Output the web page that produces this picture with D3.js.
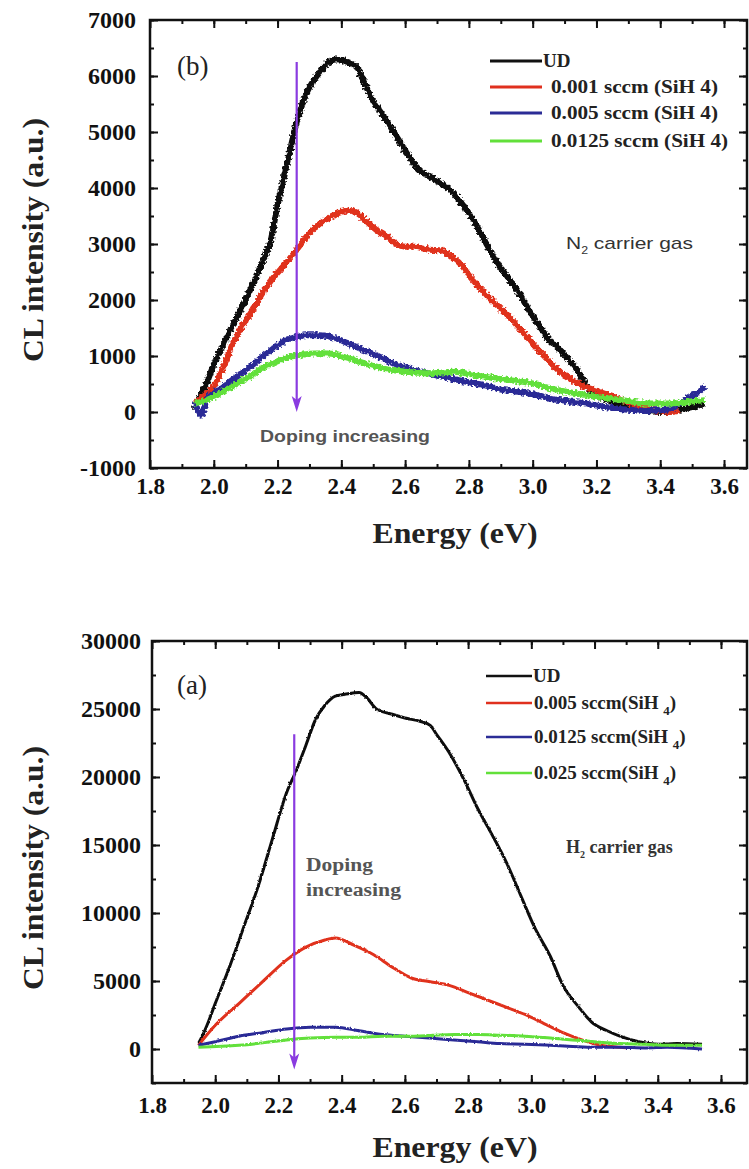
<!DOCTYPE html>
<html><head><meta charset="utf-8">
<script src="https://cdn.jsdelivr.net/npm/d3@7/dist/d3.min.js"></script>
<style>body{margin:0;background:#fff}svg{display:block}</style>
</head><body>
<script>
// ---------- DATA ----------
const xTicks = [1.8, 2.0, 2.2, 2.4, 2.6, 2.8, 3.0, 3.2, 3.4, 3.6];
const xTickLabels = ["1.8","2.0","2.2","2.4","2.6","2.8","3.0","3.2","3.4","3.6"];
const yTicksB = [-1000, 0, 1000, 2000, 3000, 4000, 5000, 6000, 7000];
const yTickLabelsB = ["-1000","0","1000","2000","3000","4000","5000","6000","7000"];
const yTicksA = [0, 5000, 10000, 15000, 20000, 25000, 30000];
const yTickLabelsA = ["0","5000","10000","15000","20000","25000","30000"];

const legendB = ["UD", "0.001 sccm  (SiH 4)", "0.005 sccm  (SiH 4)", "0.0125 sccm  (SiH 4)"];
const legendA = ["UD", "0.005 sccm", "0.0125 sccm", "0.025 sccm"];
const colors = ["#111111", "#e0301e", "#2b2c96", "#62e03a"];

// panel (b): N2 carrier gas  [energy eV, CL intensity]
const b_UD = [[1.94,50],[1.96,300],[1.98,550],[2.00,850],[2.03,1200],[2.06,1550],[2.09,1900],[2.12,2250],[2.15,2650],[2.18,3100],[2.20,3700],[2.22,4200],[2.24,4700],[2.26,5180],[2.28,5550],[2.30,5800],[2.33,6050],[2.36,6250],[2.39,6300],[2.42,6250],[2.45,6150],[2.47,5900],[2.50,5550],[2.53,5300],[2.57,4950],[2.60,4670],[2.64,4350],[2.69,4160],[2.74,3970],[2.77,3780],[2.80,3550],[2.83,3270],[2.86,2950],[2.89,2650],[2.93,2350],[2.96,2100],[2.99,1800],[3.02,1550],[3.05,1300],[3.08,1150],[3.11,950],[3.14,750],[3.17,450],[3.20,300],[3.24,200],[3.28,100],[3.33,50],[3.40,0],[3.47,50],[3.54,150]];
const b_001 = [[1.94,150],[1.97,300],[2.00,460],[2.03,800],[2.06,1230],[2.09,1550],[2.12,1800],[2.15,2100],[2.18,2350],[2.21,2550],[2.24,2750],[2.26,2900],[2.28,3050],[2.30,3200],[2.33,3350],[2.36,3460],[2.39,3550],[2.42,3600],[2.45,3550],[2.48,3400],[2.51,3250],[2.54,3150],[2.57,3010],[2.60,2950],[2.63,2950],[2.67,2900],[2.71,2890],[2.75,2760],[2.78,2600],[2.80,2440],[2.83,2250],[2.86,2060],[2.89,1900],[2.92,1740],[2.95,1550],[2.98,1360],[3.01,1150],[3.04,975],[3.07,800],[3.10,660],[3.13,550],[3.16,460],[3.19,400],[3.22,340],[3.25,280],[3.28,210],[3.31,150],[3.34,80],[3.38,30],[3.43,0],[3.46,20]];
const b_005 = [[1.94,200],[1.96,-50],[1.98,250],[2.00,340],[2.04,500],[2.08,660],[2.12,830],[2.15,975],[2.19,1150],[2.23,1290],[2.26,1340],[2.29,1370],[2.33,1370],[2.36,1350],[2.39,1300],[2.42,1230],[2.46,1130],[2.50,1040],[2.54,930],[2.57,850],[2.61,780],[2.65,720],[2.70,650],[2.75,590],[2.79,540],[2.83,500],[2.87,450],[2.90,400],[2.94,370],[2.98,340],[3.02,290],[3.05,240],[3.09,210],[3.13,180],[3.17,150],[3.20,115],[3.24,80],[3.28,50],[3.32,30],[3.35,20],[3.39,30],[3.43,50],[3.46,150],[3.49,270],[3.52,350],[3.54,460]];
const b_0125 = [[1.94,150],[1.97,200],[2.00,270],[2.04,400],[2.08,530],[2.12,660],[2.15,780],[2.19,880],[2.23,975],[2.26,1010],[2.30,1040],[2.34,1050],[2.37,1040],[2.41,980],[2.45,910],[2.49,840],[2.53,780],[2.57,740],[2.60,720],[2.64,700],[2.67,690],[2.71,700],[2.75,720],[2.79,690],[2.83,650],[2.86,620],[2.90,590],[2.94,560],[2.98,530],[3.02,480],[3.05,430],[3.09,380],[3.13,340],[3.17,300],[3.20,270],[3.24,240],[3.28,210],[3.32,180],[3.35,150],[3.39,150],[3.43,150],[3.48,180],[3.54,210]];

// panel (a): H2 carrier gas
const a_UD = [[1.947,400],[1.96,1000],[1.975,1800],[2.00,3340],[2.045,6020],[2.09,8960],[2.135,11900],[2.18,15380],[2.226,18860],[2.256,20460],[2.287,22340],[2.317,24210],[2.347,25280],[2.38,25950],[2.41,26080],[2.455,26220],[2.48,25810],[2.51,25010],[2.56,24610],[2.60,24340],[2.65,24080],[2.68,23800],[2.70,23140],[2.74,21800],[2.79,19660],[2.83,17700],[2.87,16000],[2.92,13780],[2.97,11100],[3.01,8960],[3.06,6820],[3.10,4680],[3.15,3080],[3.19,2000],[3.24,1340],[3.28,940],[3.34,535],[3.40,350],[3.46,400],[3.54,350]];
const a_005 = [[1.947,270],[2.00,1740],[2.075,3340],[2.15,4950],[2.226,6550],[2.287,7490],[2.347,8020],[2.38,8160],[2.44,7620],[2.50,6950],[2.56,6020],[2.62,5220],[2.68,4950],[2.74,4680],[2.80,4150],[2.86,3610],[2.92,3080],[2.98,2540],[3.04,1870],[3.10,1200],[3.16,670],[3.22,270],[3.28,130],[3.30,100]];
const a_0125 = [[1.947,270],[2.00,535],[2.075,940],[2.15,1200],[2.226,1470],[2.30,1600],[2.38,1600],[2.455,1340],[2.53,1070],[2.60,940],[2.68,800],[2.755,670],[2.83,535],[2.90,400],[2.98,350],[3.06,270],[3.13,190],[3.20,130],[3.28,130],[3.36,80],[3.43,130],[3.54,0]];
const a_025 = [[1.947,130],[2.075,270],[2.15,450],[2.226,670],[2.30,800],[2.38,860],[2.455,860],[2.53,940],[2.60,940],[2.68,990],[2.755,1070],[2.83,1070],[2.90,1020],[2.98,940],[3.06,800],[3.13,670],[3.20,535],[3.28,400],[3.36,350],[3.43,270],[3.54,270]];

// annotation arrows [energy, from intensity, to intensity]
const arrowB = [2.26, 6250, 0];
const arrowA = [2.25, 23150, -1500];

// ---------- DRAW ----------
const W = 749, H = 1169;
const svg = d3.select("body").append("svg").attr("width", W).attr("height", H);
const defs = svg.append("defs");
function noiseFilter(id, scale, freq){
  const f = defs.append("filter").attr("id", id).attr("filterUnits","userSpaceOnUse")
    .attr("x",0).attr("y",0).attr("width",W).attr("height",H);
  f.append("feTurbulence").attr("type","fractalNoise").attr("baseFrequency",freq).attr("numOctaves",1).attr("seed",7).attr("result","t");
  f.append("feDisplacementMap").attr("in","SourceGraphic").attr("in2","t").attr("scale",scale)
    .attr("xChannelSelector","R").attr("yChannelSelector","G");
}
noiseFilter("noiseB", 6, 0.45);
noiseFilter("noiseA", 2.5, 0.5);

const serif = "'Liberation Serif','Times New Roman',serif";
const sans = "'Liberation Sans',Arial,sans-serif";
const arrowColor = "#8a3be0";

function panel(cfg){
  const g = svg.append("g");
  const x = d3.scaleLinear().domain(cfg.xDomain).range([cfg.L, cfg.R]);
  const y = d3.scaleLinear().domain(cfg.yDomain).range([cfg.B, cfg.T]);
  const xMinor = d3.range(19, 37).map(d => d/10);
  const yMinor = d3.range(cfg.yDomain[0], cfg.yDomain[1] + 1, cfg.yMinorStep);
  const axStyle = sel => { sel.select(".domain").remove(); sel.selectAll("line").attr("stroke","#111").attr("stroke-width",2); };

  g.append("g").attr("transform",`translate(0,${cfg.B})`).call(d3.axisBottom(x).tickValues(xMinor).tickSize(-4).tickFormat("")).call(axStyle);
  g.append("g").attr("transform",`translate(0,${cfg.T})`).call(d3.axisTop(x).tickValues(xMinor).tickSize(-4).tickFormat("")).call(axStyle);
  g.append("g").attr("transform",`translate(${cfg.L},0)`).call(d3.axisLeft(y).tickValues(yMinor).tickSize(-4).tickFormat("")).call(axStyle);
  g.append("g").attr("transform",`translate(${cfg.R},0)`).call(d3.axisRight(y).tickValues(yMinor).tickSize(-4).tickFormat("")).call(axStyle);
  const xb = g.append("g").attr("transform",`translate(0,${cfg.B})`)
    .call(d3.axisBottom(x).tickValues(xTicks).tickSize(-8).tickPadding(cfg.xPad).tickFormat((d,i)=>xTickLabels[i])).call(axStyle);
  g.append("g").attr("transform",`translate(0,${cfg.T})`).call(d3.axisTop(x).tickValues(xTicks).tickSize(-8).tickFormat("")).call(axStyle);
  const yl = g.append("g").attr("transform",`translate(${cfg.L},0)`)
    .call(d3.axisLeft(y).tickValues(cfg.yTicks).tickSize(-8).tickPadding(cfg.yPad).tickFormat((d,i)=>cfg.yLabels[i])).call(axStyle);
  g.append("g").attr("transform",`translate(${cfg.R},0)`).call(d3.axisRight(y).tickValues(cfg.yTicks).tickSize(-8).tickFormat("")).call(axStyle);
  xb.selectAll("text").attr("font-family", serif).attr("font-weight","bold").attr("font-size",23).attr("fill","#111");
  yl.selectAll("text").attr("font-family", serif).attr("font-weight","bold").attr("font-size",24).attr("fill","#111");

  const line = d3.line().x(d=>x(d[0])).y(d=>y(d[1])).curve(d3.curveMonotoneX);
  cfg.series.forEach((s,i) => {
    g.append("path").datum(s).attr("d", line).attr("fill","none").attr("stroke", colors[i])
      .attr("stroke-width", cfg.lw).attr("stroke-linejoin","round").attr("filter", `url(#${cfg.filter})`);
  });

  g.append("rect").attr("x",cfg.L).attr("y",cfg.T).attr("width",cfg.R-cfg.L).attr("height",cfg.B-cfg.T)
    .attr("fill","none").attr("stroke","#111").attr("stroke-width",2.5);

  // arrow
  const ax = x(cfg.arrow[0]), ay1 = y(cfg.arrow[1]), ay2 = y(cfg.arrow[2]);
  g.append("line").attr("x1", ax).attr("x2", ax).attr("y1", ay1).attr("y2", ay2 - 8)
    .attr("stroke",arrowColor).attr("stroke-width",2.2);
  g.append("path").attr("d", `M${ax-5},${ay2-16} L${ax},${ay2-12} L${ax+5},${ay2-16} L${ax},${ay2} Z`).attr("fill",arrowColor);

  // legend
  cfg.legend.forEach((name,i) => {
    const ly = cfg.legRows[i];
    g.append("line").attr("x1",cfg.legX1).attr("x2",cfg.legX2).attr("y1",ly).attr("y2",ly)
      .attr("stroke",colors[i]).attr("stroke-width",cfg.legLw);
    const t = g.append("text").attr("x", i===0 ? cfg.legX2+1 : cfg.legTx).attr("y", ly+6)
      .attr("font-family",serif).attr("font-weight","bold").attr("font-size",19).attr("fill","#222");
    t.append("tspan").text(name);
    if (cfg.subLegend && i>0){
      t.append("tspan").text("(SiH ");
      t.append("tspan").attr("font-size",13).attr("dy",6).text("4");
      t.append("tspan").attr("dy",-6).text(")");
    }
    if (cfg.legLen && cfg.legLen[i]) t.attr("textLength", cfg.legLen[i]).attr("lengthAdjust","spacingAndGlyphs");
  });

  g.append("text").attr("transform",`translate(${cfg.yTitleX},${cfg.yTitleY}) rotate(-90)`)
    .attr("text-anchor","middle").attr("font-family",serif).attr("font-weight","bold").attr("font-size",29)
    .attr("fill","#222").attr("textLength",244).attr("lengthAdjust","spacingAndGlyphs").text("CL intensity (a.u.)");
  g.append("text").attr("x",455).attr("y",cfg.xTitleY).attr("text-anchor","middle")
    .attr("font-family",serif).attr("font-weight","bold").attr("font-size",29).attr("fill","#222")
    .attr("textLength",165).attr("lengthAdjust","spacingAndGlyphs").text("Energy (eV)");
  g.append("text").attr("x",177).attr("y",cfg.labelY).attr("font-family",serif).attr("font-size",27).attr("fill","#222").text(cfg.label);
  return {g, x, y};
}

const pb = panel({
  L:150, R:747, T:20, B:468, xDomain:[1.8, 1.8 + 597/318.9], yDomain:[-1000, 7000], yMinorStep:500,
  yTicks:yTicksB, yLabels:yTickLabelsB, xPad:10, yPad:14,
  series:[b_UD, b_001, b_005, b_0125], lw:6, filter:"noiseB",
  arrow:arrowB, legend:legendB, legRows:[61,87,113,141], legX1:490, legX2:542, legTx:551, legLw:3,
  legLen:[0,167,167,177],
  yTitleX:43, yTitleY:240, xTitleY:543, label:"(b)", labelY:75
});
const nb = pb.g.append("text").attr("x",566).attr("y",249).attr("font-family",sans).attr("font-size",17).attr("fill","#333")
  .attr("textLength",127).attr("lengthAdjust","spacingAndGlyphs");
nb.append("tspan").text("N");
nb.append("tspan").attr("font-size",10).attr("dy",5).text("2");
nb.append("tspan").attr("dy",-5).text(" carrier gas");
pb.g.append("text").attr("x",260).attr("y",442).attr("font-family",sans).attr("font-weight","bold").attr("font-size",17).attr("fill","#555")
  .attr("textLength",170).attr("lengthAdjust","spacingAndGlyphs").text("Doping increasing");

const pa = panel({
  L:152, R:747, T:641, B:1083, xDomain:[1.8, 1.8 + 595/316.1], yDomain:[-2500, 30000], yMinorStep:2500,
  yTicks:yTicksA, yLabels:yTickLabelsA, xPad:14, yPad:11,
  series:[a_UD, a_005, a_0125, a_025], lw:3, filter:"noiseA",
  arrow:arrowA, legend:legendA, legRows:[676,703,737,773], legX1:486, legX2:532, legTx:534, legLw:2.5,
  subLegend:true, legLen:null,
  yTitleX:43, yTitleY:868, xTitleY:1157, label:"(a)", labelY:694
});
const na = pa.g.append("text").attr("x",566).attr("y",853).attr("font-family",serif).attr("font-weight","bold").attr("font-size",18).attr("fill","#333");
na.append("tspan").text("H");
na.append("tspan").attr("font-size",10).attr("dy",5).text("2");
na.append("tspan").attr("dy",-5).text(" carrier gas");
pa.g.append("text").attr("x",306).attr("y",871).attr("font-family",serif).attr("font-weight","bold").attr("font-size",18).attr("fill","#555")
  .attr("textLength",67).attr("lengthAdjust","spacingAndGlyphs").text("Doping");
pa.g.append("text").attr("x",306).attr("y",896).attr("font-family",serif).attr("font-weight","bold").attr("font-size",18).attr("fill","#555")
  .attr("textLength",95).attr("lengthAdjust","spacingAndGlyphs").text("increasing");
</script>
</body></html>
